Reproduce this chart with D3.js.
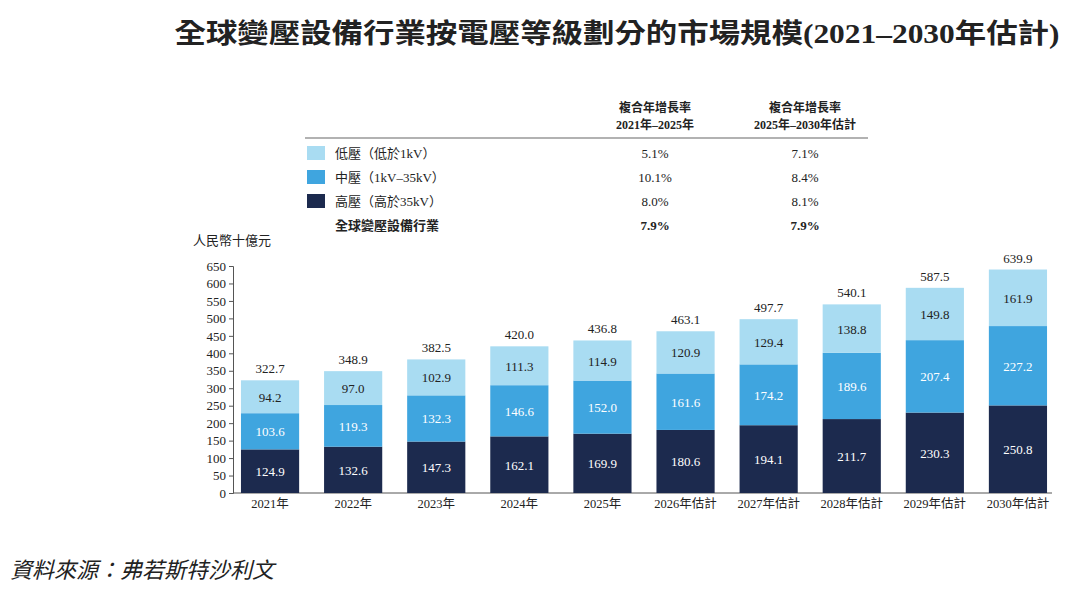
<!DOCTYPE html>
<html><head><meta charset="utf-8">
<script src="https://cdn.jsdelivr.net/npm/d3@7"></script>
<style>
body{margin:0;background:#fff;}
text{font-family:"Liberation Serif","Noto Sans CJK TC",serif;}
</style></head>
<body>
<script>
var years = ["2021年","2022年","2023年","2024年","2025年","2026年估計","2027年估計","2028年估計","2029年估計","2030年估計"];
var high = [124.9,132.6,147.3,162.1,169.9,180.6,194.1,211.7,230.3,250.8];
var mid = [103.6,119.3,132.3,146.6,152.0,161.6,174.2,189.6,207.4,227.2];
var low = [94.2,97.0,102.9,111.3,114.9,120.9,129.4,138.8,149.8,161.9];
var totals = [322.7,348.9,382.5,420.0,436.8,463.1,497.7,540.1,587.5,639.9];
var yTicks = d3.range(0,651,50);
var legendNames = ["低壓（低於1kV）","中壓（1kV–35kV）","高壓（高於35kV）","全球變壓設備行業"];
var cagr1 = ["5.1%","10.1%","8.0%","7.9%"];
var cagr2 = ["7.1%","8.4%","8.1%","7.9%"];
var colors = ["#a9dcf2","#3fa5df","#1c2a4e"];

var svg = d3.select("body").append("svg").attr("width",1080).attr("height",596);

svg.append("text").attr("x",617).attr("y",43).attr("text-anchor","middle")
  .attr("font-size",27).attr("font-weight","bold").attr("fill","#222")
  .attr("textLength",885).attr("lengthAdjust","spacingAndGlyphs")
  .text("全球變壓設備行業按電壓等級劃分的市場規模(2021–2030年估計)");

// table
var hdr = [["複合年增長率","2021年–2025年",655],["複合年增長率","2025年–2030年估計",805]];
hdr.forEach(function(h){
  svg.append("text").attr("x",h[2]).attr("y",112).attr("text-anchor","middle").attr("font-size",12).attr("font-weight","bold").attr("fill","#222").text(h[0]);
  svg.append("text").attr("x",h[2]).attr("y",129).attr("text-anchor","middle").attr("font-size",12).attr("font-weight","bold").attr("fill","#222").text(h[1]);
});
svg.append("line").attr("x1",305).attr("x2",868).attr("y1",138).attr("y2",138).attr("stroke","#999").attr("stroke-width",1.5);
legendNames.forEach(function(n,i){
  var y = 153 + i*24;
  if(i<3) svg.append("rect").attr("x",307).attr("y",y-7).attr("width",18).attr("height",14).attr("fill",colors[i]);
  var b = i==3 ? "bold" : "normal";
  svg.append("text").attr("x",335).attr("y",y+5).attr("font-size",13).attr("font-weight",b).attr("fill","#222").text(n);
  svg.append("text").attr("x",655).attr("y",y+5).attr("text-anchor","middle").attr("font-size",13).attr("font-weight",b).attr("fill","#222").text(cagr1[i]);
  svg.append("text").attr("x",805).attr("y",y+5).attr("text-anchor","middle").attr("font-size",13).attr("font-weight",b).attr("fill","#222").text(cagr2[i]);
});

svg.append("text").attr("x",193).attr("y",245).attr("font-size",13).attr("fill","#222").text("人民幣十億元");

var x = d3.scaleBand().domain(years).range([228.5,1059.5]).paddingInner(0.3).paddingOuter(0.15);
var y = d3.scaleLinear().domain([0,650]).range([493,266]);

var ya = svg.append("g").attr("transform","translate(233,0)")
  .call(d3.axisLeft(y).tickValues(yTicks).tickSize(4).tickPadding(3));
ya.selectAll("text").attr("font-size",13).attr("fill","#222").style("font-family","Liberation Serif");
ya.selectAll("line,path").attr("stroke","#555");

var xa = svg.append("g").attr("transform","translate(0,493)")
  .call(d3.axisBottom(x).tickSize(0).tickPadding(6));
xa.select("path").attr("d","M233,0H1052").attr("stroke","#555");
xa.selectAll("text").attr("font-size",12.5).attr("fill","#222");

var series = [high, mid, low];
var segColors = [colors[2], colors[1], colors[0]];
var txtColors = ["#fff","#fff","#222"];
years.forEach(function(yr,i){
  var base = 0;
  series.forEach(function(s,k){
    var v = s[i];
    svg.append("rect").attr("x",x(yr)).attr("width",x.bandwidth())
      .attr("y",y(base+v)).attr("height",y(base)-y(base+v)).attr("fill",segColors[k]);
    svg.append("text").attr("x",x(yr)+x.bandwidth()/2).attr("y",y(base+v/2)+5)
      .attr("text-anchor","middle").attr("font-size",13).attr("fill",txtColors[k]).text(v.toFixed(1));
    base += v;
  });
  svg.append("text").attr("x",x(yr)+x.bandwidth()/2).attr("y",y(totals[i])-7)
    .attr("text-anchor","middle").attr("font-size",13).attr("fill","#222").text(totals[i].toFixed(1));
});

svg.append("text").attr("x",10).attr("y",578).attr("font-size",22).attr("font-style","italic").attr("fill","#222").text("資料來源：弗若斯特沙利文");
</script>
</body></html>
